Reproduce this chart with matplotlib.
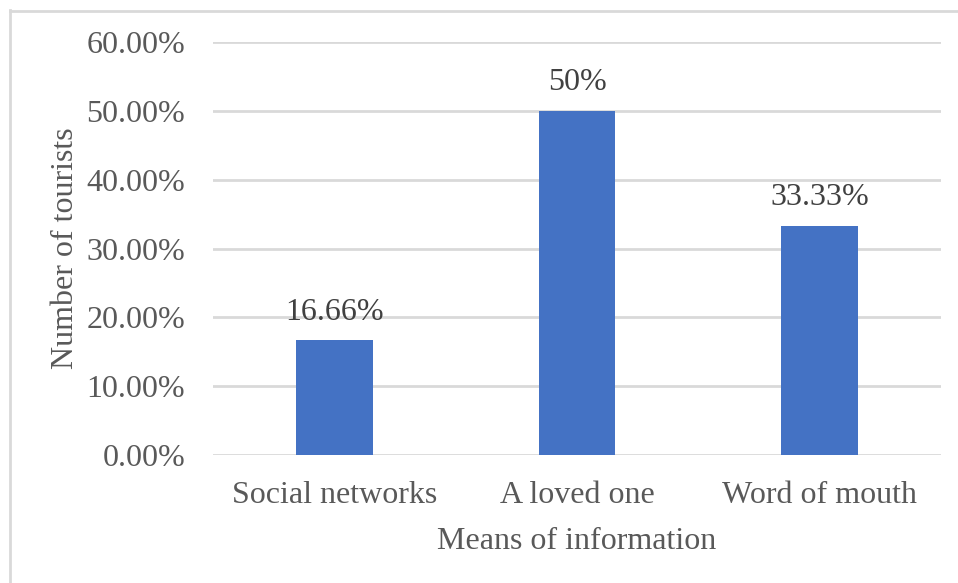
import numpy as np
import matplotlib.pyplot as plt
from matplotlib.ticker import PercentFormatter

# data
means = ['Social networks', 'A loved one', 'Word of mouth']
share = [16.66, 50.0, 33.33]
labels = ['16.66%', '50%', '33.33%']
yticks = [0, 10, 20, 30, 40, 50, 60]

plt.rcParams['font.family'] = ['Liberation Serif', 'DejaVu Serif']

fig = plt.figure(figsize=(9.58, 5.83), dpi=100)
ax = fig.add_axes([213/958, 1-455/583, (941-213)/958, (455-42)/583])

x = np.arange(len(means))
bars = ax.bar(x, share, width=0.317, color='#4472C4', zorder=3)
for b, lab in zip(bars, labels):
    ax.text(b.get_x() + b.get_width()/2, b.get_height() + 2.0, lab,
            ha='center', va='bottom', fontsize=23, color='#404040')

ax.set_xlim(-0.5, 2.5)
ax.set_ylim(0, 60)
ax.set_yticks(yticks)
ax.yaxis.set_major_formatter(PercentFormatter(decimals=2))
ax.set_xticks(x)
ax.set_xticklabels(means)
ax.tick_params(axis='both', length=0, labelsize=23, colors='#595959')
ax.tick_params(axis='y', pad=20)
ax.tick_params(axis='x', pad=19)
ax.grid(axis='y', color='#D9D9D9', linewidth=2, zorder=0)
for s in ax.spines.values():
    s.set_visible(False)

ax.set_ylabel('Number of tourists', fontsize=23, color='#595959', labelpad=5)
ax.set_xlabel('Means of information', fontsize=23, color='#595959', labelpad=12)

# frame lines on the left and top edges
fig.add_artist(plt.Line2D([9.5/958, 9.5/958], [0, 1-10/583], color='#D9D9D9', lw=2))
fig.add_artist(plt.Line2D([9.5/958, 1], [1-11/583, 1-11/583], color='#D9D9D9', lw=2))

plt.savefig('out.png', dpi=100)
